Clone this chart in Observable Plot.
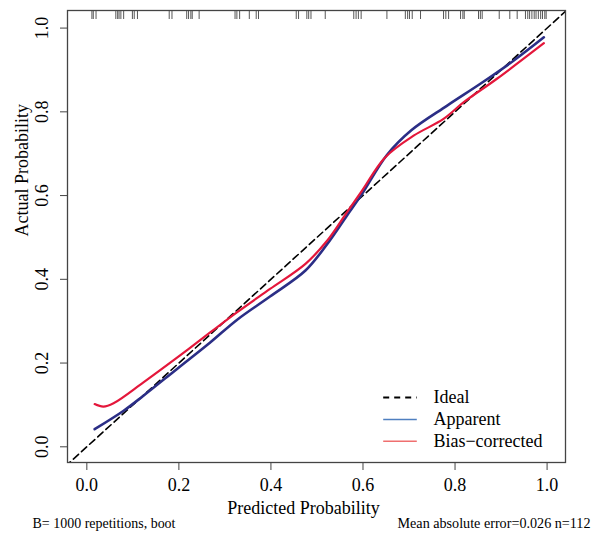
<!DOCTYPE html>
<html><head><meta charset="utf-8">
<script src="https://cdn.jsdelivr.net/npm/d3@7"></script>
<script src="https://cdn.jsdelivr.net/npm/@observablehq/plot@0.6"></script>
<style>body{margin:0;background:#fff}</style>
</head><body><div id="chart"></div>
<script>
const axisTicks = [0, 0.2, 0.4, 0.6, 0.8, 1.0];
const apparentX = [0.017, 0.080, 0.123, 0.196, 0.268, 0.326, 0.398, 0.475, 0.522, 0.565, 0.598, 0.652, 0.705, 0.783, 0.855, 0.927, 0.993];
const apparentY = [0.042, 0.086, 0.122, 0.186, 0.249, 0.303, 0.359, 0.421, 0.484, 0.552, 0.604, 0.697, 0.756, 0.815, 0.867, 0.922, 0.978];
const biasX = [0.017, 0.036, 0.058, 0.123, 0.196, 0.268, 0.326, 0.398, 0.475, 0.522, 0.565, 0.598, 0.648, 0.710, 0.775, 0.819, 0.891, 0.993];
const biasY = [0.102, 0.096, 0.104, 0.154, 0.213, 0.273, 0.321, 0.377, 0.437, 0.492, 0.560, 0.612, 0.691, 0.743, 0.783, 0.823, 0.879, 0.964];
const idealX = [-0.1, 1.1];
const rugX = [0.011, 0.014, 0.020, 0.063, 0.067, 0.070, 0.074, 0.080, 0.099, 0.103, 0.110, 0.179, 0.185, 0.217, 0.221, 0.226, 0.229, 0.244, 0.322, 0.326, 0.332, 0.353, 0.368, 0.373, 0.455, 0.460, 0.478, 0.482, 0.487, 0.518, 0.580, 0.585, 0.590, 0.596, 0.652, 0.692, 0.697, 0.701, 0.707, 0.725, 0.775, 0.780, 0.786, 0.812, 0.817, 0.820, 0.851, 0.855, 0.859, 0.896, 0.919, 0.935, 0.953, 0.958, 0.962, 0.967, 0.972, 0.976, 0.981, 0.986, 0.990, 0.995, 0.998];
const legendLabels = ["Ideal", "Apparent", "Bias\u2212corrected"];
const xTitle = "Predicted Probability";
const yTitle = "Actual Probability";
const captionLeft = "B= 1000 repetitions, boot";
const captionRight = "Mean absolute error=0.026 n=112";

const apparent = apparentX.map((x, i) => ({x, y: apparentY[i]}));
const bias = biasX.map((x, i) => ({x, y: biasY[i]}));

// legend layout (in data units)
const lgX1 = 0.645, lgX2 = 0.718, lgTx = 0.753;
const lgY = [0.118, 0.065, 0.013];

const font = "'Liberation Serif', 'Times New Roman', serif";
const chart = Plot.plot({
  width: 601, height: 538,
  marginLeft: 67, marginRight: 36, marginTop: 10, marginBottom: 76,
  x: {domain: [-0.042, 1.04]},
  y: {domain: [-0.0375, 1.042]},
  style: {fontFamily: font, fontSize: "18px", background: "#fff", color: "#000"},
  marks: [
    Plot.line(idealX, {x: d => d, y: d => d, stroke: "#000", strokeWidth: 1.6, strokeDasharray: "7,4", clip: true}),
    Plot.line(apparent, {x: "x", y: "y", curve: "catmull-rom", stroke: "#2b2e86", strokeWidth: 2.6}),
    Plot.line(bias, {x: "x", y: "y", curve: "catmull-rom", stroke: "#e4173b", strokeWidth: 2.2}),
    Plot.tickX(rugX, {x: d => d, insetBottom: 443, stroke: "#444", strokeWidth: 0.9}),
    Plot.frame({stroke: "#444", strokeWidth: 1.3}),
    Plot.axisX({ticks: axisTicks, tickSize: 8, tickPadding: 8, tickFormat: d => d.toFixed(1), fontSize: 18, label: null, stroke: "#444"}),
    Plot.axisY({ticks: axisTicks, tickSize: 7, tickRotate: -90, tickPadding: 13, tickFormat: d => d.toFixed(1), fontSize: 18, label: null, stroke: "#444"}),
    Plot.text([xTitle], {text: d => d, frameAnchor: "bottom", dy: 51, dx: -13, fontSize: 18}),
    Plot.text([yTitle], {text: d => d, frameAnchor: "left", dx: -45, rotate: -90, fontSize: 18}),
    Plot.text([captionLeft], {text: d => d, frameAnchor: "bottom-left", dx: -35, dy: 65, textAnchor: "start", fontSize: 15, className: "capL"}),
    Plot.text([captionRight], {text: d => d, frameAnchor: "bottom-right", dx: 25, dy: 65, textAnchor: "end", fontSize: 15, className: "capR"}),
    Plot.ruleY([lgY[0]], {y: d => d, x1: lgX1, x2: lgX2, stroke: "#000", strokeWidth: 2, strokeDasharray: "6,5"}),
    Plot.ruleY([lgY[1]], {y: d => d, x1: lgX1, x2: lgX2, stroke: "#4f7fc0", strokeWidth: 1.5}),
    Plot.ruleY([lgY[2]], {y: d => d, x1: lgX1, x2: lgX2, stroke: "#ef6f6f", strokeWidth: 1.5}),
    Plot.text(legendLabels, {text: d => d, x: () => lgTx, y: (d, i) => lgY[i], textAnchor: "start", fontSize: 18})
  ]
});
// condense the caption text horizontally like the reference
d3.select(chart).selectAll(".capL text").attr("textLength", 143).attr("lengthAdjust", "spacingAndGlyphs");
d3.select(chart).selectAll(".capR text").attr("textLength", 193).attr("lengthAdjust", "spacingAndGlyphs");
document.getElementById("chart").appendChild(chart);
</script></body></html>
